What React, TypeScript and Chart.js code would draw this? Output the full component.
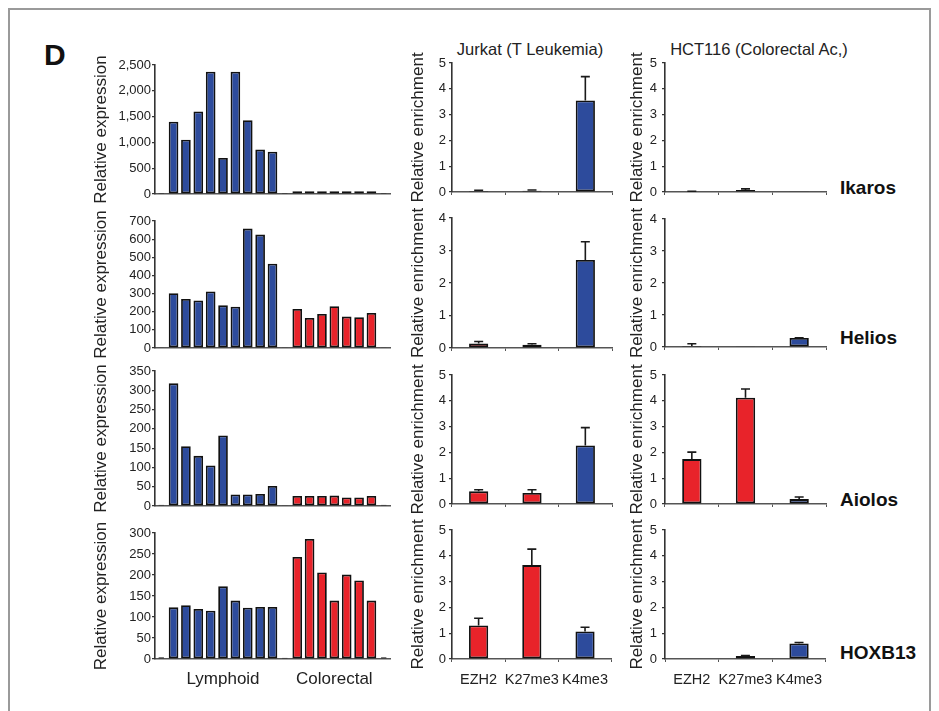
import React, { useEffect, useRef } from 'react';
import { Chart, registerables } from 'chart.js';
Chart.register(...registerables);

const FONT = "'Liberation Sans', Arial, Helvetica, sans-serif";
const BLUE = '#2d4b9c';
const RED = '#e8232a';
const INK = '#222222';

// ---------- data ----------
const genes = ['Ikaros', 'Helios', 'Aiolos', 'HOXB13'];
const groupLabels = ['Lymphoid', 'Colorectal'];
const marks = ['EZH2', 'K27me3', 'K4me3'];
const cellLines = ['Jurkat (T Leukemia)', 'HCT116 (Colorectal Ac,)'];

const ikarosLymphoid = [1400, 1050, 1600, 2370, 700, 2370, 1430, 860, 820];
const ikarosColorectal = [55, 55, 55, 55, 55, 55, 55];
const ikarosControls = [20, 20, 20];
const heliosLymphoid = [302, 270, 262, 312, 235, 227, 658, 625, 465];
const heliosColorectal = [215, 165, 188, 230, 173, 170, 193];
const heliosControls = [2, 2, 2];
const aiolosLymphoid = [318, 155, 130, 105, 183, 30, 30, 31, 52];
const aiolosColorectal = [26, 26, 26, 27, 22, 22, 26];
const aiolosControls = [3, 2, 3];
const hoxb13Lymphoid = [123, 128, 119, 115, 173, 139, 122, 124, 124];
const hoxb13Colorectal = [243, 286, 206, 139, 201, 187, 139];
const hoxb13Controls = [4, 3, 4];
const expressionMax = [2500, 700, 350, 300];
const expressionStep = [500, 100, 50, 50];

const jurkatIkaros = [0.04, 0.05, 3.55];
const jurkatIkarosErr = [0.03, 0.03, 0.92];
const jurkatHelios = [0.14, 0.1, 2.71];
const jurkatHeliosErr = [0.06, 0.03, 0.56];
const jurkatAiolos = [0.49, 0.43, 2.27];
const jurkatAiolosErr = [0.06, 0.12, 0.69];
const jurkatHoxb13 = [1.3, 3.64, 1.07];
const jurkatHoxb13Err = [0.28, 0.62, 0.16];

const hctIkaros = [0.02, 0.08, 0.01];
const hctIkarosErr = [0.01, 0.04, 0];
const hctHelios = [0.03, 0.02, 0.28];
const hctHeliosErr = [0.07, 0, 0.01];
const hctAiolos = [1.74, 4.12, 0.19];
const hctAiolosErr = [0.27, 0.34, 0.08];
const hctHoxb13 = [0.02, 0.12, 0.6];
const hctHoxb13Err = [0, 0.01, 0.04];
const enrichmentMax = [5, 4, 5, 5];
const markColors = [RED, RED, BLUE];

const lymphoidSets = [ikarosLymphoid, heliosLymphoid, aiolosLymphoid, hoxb13Lymphoid];
const colorectalSets = [ikarosColorectal, heliosColorectal, aiolosColorectal, hoxb13Colorectal];
const controlSets = [ikarosControls, heliosControls, aiolosControls, hoxb13Controls];
const jurkatSets = [jurkatIkaros, jurkatHelios, jurkatAiolos, jurkatHoxb13];
const jurkatErrSets = [jurkatIkarosErr, jurkatHeliosErr, jurkatAiolosErr, jurkatHoxb13Err];
const hctSets = [hctIkaros, hctHelios, hctAiolos, hctHoxb13];
const hctErrSets = [hctIkarosErr, hctHeliosErr, hctAiolosErr, hctHoxb13Err];

// ---------- layout ----------
const PAD_TOP = 16;
const COLS = [
  { left: 86, plotLeft: 155, plotRight: 390, titlePad: 4.8, tickPad: 1, rows: [[65, 194], [221, 348], [371, 506], [533, 659]] },
  { left: 404, plotLeft: 452, plotRight: 612, titlePad: 3.8, tickPad: 3, rows: [[63, 192], [218, 348], [375, 504], [530, 659]] },
  { left: 623, plotLeft: 665, plotRight: 826, titlePad: 3.8, tickPad: 5, rows: [[63, 192], [219, 347], [375, 504], [530, 659]] },
];
const geneLabelTops = [178, 328, 490, 643];

const errorBars = {
  id: 'errorBars',
  afterDatasetsDraw(chart: any) {
    const ds: any = chart.data.datasets[0];
    const errs: number[] | undefined = ds.errors;
    if (!errs) return;
    const meta = chart.getDatasetMeta(0);
    const ys = chart.scales.y;
    const ctx = chart.ctx;
    ctx.save();
    ctx.strokeStyle = '#1a1a1a';
    ctx.lineWidth = 1.6;
    meta.data.forEach((bar: any, i: number) => {
      const v = ds.data[i];
      const e = errs[i];
      if (v == null || !e) return;
      const y0 = ys.getPixelForValue(v);
      const y1 = ys.getPixelForValue(v + e);
      ctx.beginPath();
      ctx.moveTo(bar.x, y0);
      ctx.lineTo(bar.x, y1);
      ctx.moveTo(bar.x - 4.5, y1);
      ctx.lineTo(bar.x + 4.5, y1);
      ctx.stroke();
    });
    ctx.restore();
  },
};

function baseOptions(col: any, canvasW: number, yTitle: string, max: number, step: number, xh: number, xTicks: any, xGrid: any) {
  return {
    responsive: false,
    animation: false,
    devicePixelRatio: 1,
    locale: 'en-US',
    layout: { padding: { top: PAD_TOP, right: canvasW - (col.plotRight - col.left), bottom: 0, left: 0 } },
    plugins: { legend: { display: false }, tooltip: { enabled: false }, title: { display: false } },
    scales: {
      x: {
        offset: true,
        grid: xGrid,
        border: { display: true, color: '#555', width: 1.5 },
        ticks: xTicks,
        afterFit: (s: any) => { s.height = xh; },
      },
      y: {
        min: 0,
        max,
        ticks: { stepSize: step, autoSkip: false, font: { family: FONT, size: 13 }, color: INK, padding: col.tickPad },
        grid: { display: true, drawOnChartArea: false, drawTicks: true, tickLength: 3, color: '#333', lineWidth: 1.2 },
        border: { display: true, color: '#333', width: 1.6 },
        title: { display: true, text: yTitle, font: { family: FONT, size: 17 }, color: INK, padding: { top: col.titlePad, bottom: 0 } },
        afterFit: (s: any) => { s.width = col.plotLeft - col.left; },
      },
    },
  };
}

function expressionConfig(r: number) {
  const col = COLS[0];
  const lymph = lymphoidSets[r];
  const colo = colorectalSets[r];
  const ctrl = controlSets[r];
  const labels: string[] = ['', ...lymph.map(() => ''), '', ...colo.map(() => ''), ''];
  labels[1 + Math.floor(lymph.length / 2)] = groupLabels[0];
  labels[2 + lymph.length + Math.floor(colo.length / 2)] = groupLabels[1];
  const data = [null, ...lymph, null, ...colo, null];
  const colors = ['#000', ...lymph.map(() => BLUE), '#000', ...colo.map(() => RED), '#000'];
  const ctrlData = [ctrl[0], ...lymph.map(() => null), ctrl[1], ...colo.map(() => null), ctrl[2]];
  const last = r === 3;
  const canvasW = 310;
  return {
    type: 'bar',
    data: {
      labels,
      datasets: [
        { data, backgroundColor: colors, borderColor: '#111', borderWidth: 1.8, borderSkipped: false, barPercentage: 0.78, categoryPercentage: 1, grouped: false },
        { data: ctrlData, backgroundColor: '#111', borderColor: '#111', borderWidth: 1, borderSkipped: false, barPercentage: 0.45, categoryPercentage: 1, grouped: false },
      ],
    },
    options: baseOptions(
      col, canvasW, 'Relative expression', expressionMax[r], expressionStep[r], last ? 32 : 16,
      { display: last, autoSkip: false, maxRotation: 0, minRotation: 0, font: { family: FONT, size: 17 }, color: INK, padding: 10.5 },
      { display: false, drawTicks: false, drawOnChartArea: false },
    ),
    plugins: [],
  };
}

function enrichmentConfig(c: number, r: number) {
  const col = COLS[c];
  const vals = c === 1 ? jurkatSets[r] : hctSets[r];
  const errs = c === 1 ? jurkatErrSets[r] : hctErrSets[r];
  const last = r === 3;
  const canvasW = col.plotRight - col.left + 6;
  return {
    type: 'bar',
    data: {
      labels: marks,
      datasets: [
        { data: vals, errors: errs, backgroundColor: markColors, borderColor: '#111', borderWidth: 1.8, borderSkipped: false, barPercentage: 0.36, categoryPercentage: 1 },
      ],
    },
    options: baseOptions(
      col, canvasW, 'Relative enrichment', enrichmentMax[r], 1, last ? 32 : 16,
      { display: last, autoSkip: false, maxRotation: 0, minRotation: 0, font: { family: FONT, size: 14.5 }, color: INK, padding: 9 },
      { display: true, drawOnChartArea: false, drawTicks: true, tickLength: 3, color: '#555', lineWidth: 1 },
    ),
    plugins: [errorBars],
  };
}

function Panel({ c, r }: { c: number; r: number }) {
  const ref = useRef<HTMLCanvasElement>(null);
  const col = COLS[c];
  const [top, bottom] = col.rows[r];
  const xh = r === 3 ? 32 : 16;
  const width = c === 0 ? 310 : col.plotRight - col.left + 6;
  const height = bottom - top + PAD_TOP + xh;
  useEffect(() => {
    const cfg: any = c === 0 ? expressionConfig(r) : enrichmentConfig(c, r);
    const chart = new Chart(ref.current as HTMLCanvasElement, cfg);
    return () => chart.destroy();
  }, [c, r]);
  return (
    <canvas
      ref={ref}
      width={width}
      height={height}
      style={{ position: 'absolute', left: col.left, top: top - PAD_TOP, width, height }}
    />
  );
}

export default function App() {
  useEffect(() => {
    document.body.style.margin = '0';
  }, []);
  const panels: JSX.Element[] = [];
  for (let r = 0; r < 4; r++) for (let c = 0; c < 3; c++) panels.push(<Panel key={`${c}-${r}`} c={c} r={r} />);
  return (
    <div style={{ position: 'fixed', left: 0, top: 0, width: 939, height: 711, background: '#fff', overflow: 'hidden', fontFamily: FONT, color: INK }}>
      <div style={{ position: 'absolute', left: 8, top: 8, width: 923, height: 760, border: '2px solid #9a9a9a', boxSizing: 'border-box' }} />
      <div style={{ position: 'absolute', left: 44, top: 40, fontSize: 30, lineHeight: '30px', fontWeight: 'bold', color: '#111' }}>D</div>
      <div style={{ position: 'absolute', left: 380, width: 300, top: 41, fontSize: 16.5, lineHeight: '16.5px', textAlign: 'center', whiteSpace: 'nowrap' }}>{cellLines[0]}</div>
      <div style={{ position: 'absolute', left: 609, width: 300, top: 41, fontSize: 16.5, lineHeight: '16.5px', textAlign: 'center', whiteSpace: 'nowrap' }}>{cellLines[1]}</div>
      {panels}
      {genes.map((g, i) => (
        <div key={g} style={{ position: 'absolute', left: 840, top: geneLabelTops[i], fontSize: 19, lineHeight: '19px', fontWeight: 'bold', color: '#111', whiteSpace: 'nowrap' }}>{g}</div>
      ))}
    </div>
  );
}
